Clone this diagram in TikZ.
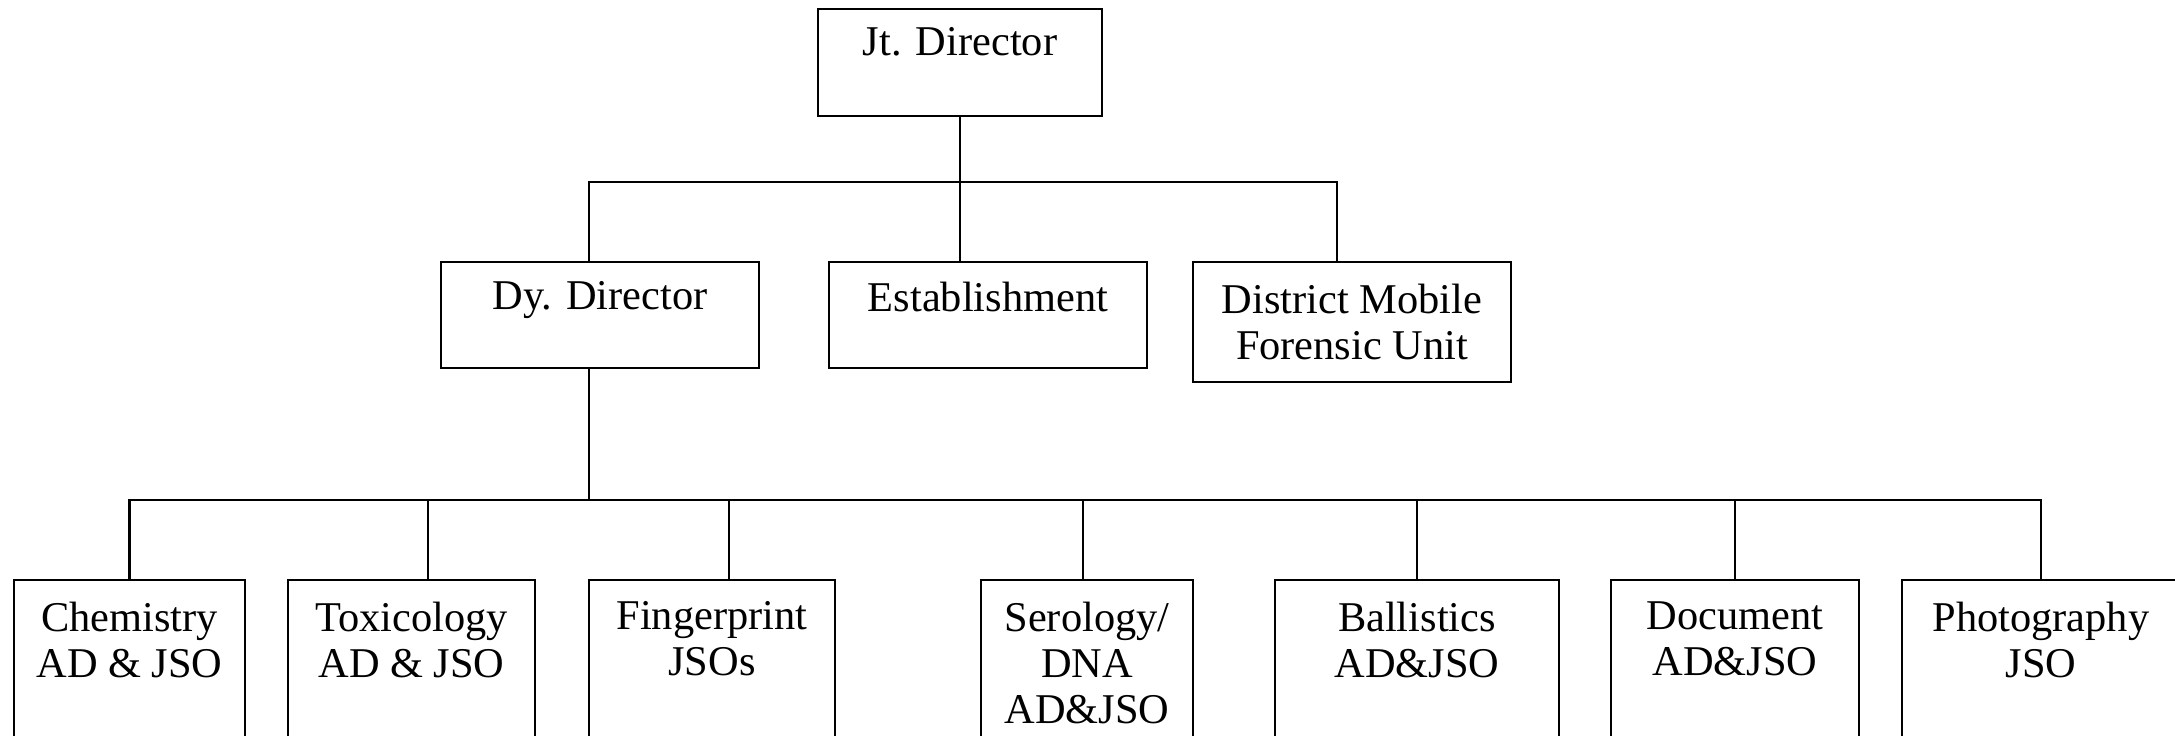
\documentclass[tikz,border=0pt]{standalone}
\usepackage{fontspec}
\setmainfont{Liberation Serif}

\begin{document}
\begin{tikzpicture}[x=0.25pt,y=-0.25pt,
  unit/.style={draw,line width=0.6pt,inner sep=0pt},
  lbl/.style={anchor=north,inner sep=0pt,align=center,font=\fontsize{10.6}{11.5}\selectfont},
  wire/.style={line width=0.6pt}]
  \useasboundingbox (0,0) rectangle (2175,736);

  % head and second level
  \node[unit,minimum width=71pt,minimum height=26.75pt] (jt) at (960,62.5) {};
  \node[unit,minimum width=79.5pt,minimum height=26.5pt] (dy) at (600,315) {};
  \node[unit,minimum width=79.5pt,minimum height=26.5pt] (est) at (988,315) {};
  \node[unit,minimum width=79.5pt,minimum height=30pt] (dmfu) at (1352,322) {};
  \node[lbl,yshift=-4.75pt] (jt-l) at (jt.north) {Jt. Director};
  \node[lbl,yshift=-5pt] (dy-l) at (dy.north) {Dy. Director};
  \node[lbl,yshift=-5pt] (est-l) at (est.north) {Establishment};
  \node[lbl,yshift=-5.5pt] (dmfu-l) at (dmfu.north) {District Mobile\\Forensic Unit};

  % divisions (run off the bottom edge)
  \node[unit,minimum width=57.75pt,minimum height=55pt] (chem) at (129.5,690) {};
  \node[unit,minimum width=61.75pt,minimum height=55pt] (tox) at (411.5,690) {};
  \node[unit,minimum width=61.5pt,minimum height=55pt] (fp) at (712,690) {};
  \node[unit,minimum width=53pt,minimum height=55pt] (ser) at (1087,690) {};
  \node[unit,minimum width=71pt,minimum height=55pt] (bal) at (1417,690) {};
  \node[unit,minimum width=62pt,minimum height=55pt] (doc) at (1735,690) {};
  \node[unit,minimum width=69.5pt,minimum height=55pt] (pho) at (2041,690) {};
  \node[lbl,yshift=-5.5pt] (chem-l) at (chem.north) {Chemistry\\AD \& JSO};
  \node[lbl,yshift=-5.5pt] (tox-l) at (tox.north) {Toxicology\\AD \& JSO};
  \node[lbl,yshift=-5.5pt] (fp-l) at (fp.north) {Fingerprint\\JSOs};
  \node[lbl,yshift=-5.5pt] (ser-l) at (ser.north) {Serology/\\DNA\\AD\&JSO};
  \node[lbl,yshift=-5.5pt] (bal-l) at (bal.north) {Ballistics\\AD\&JSO};
  \node[lbl,yshift=-5.5pt] (doc-l) at (doc.north) {Document\\AD\&JSO};
  \node[lbl,yshift=-5.5pt] (pho-l) at (pho.north) {Photography\\JSO};

  % connectors
  \coordinate (top-bus) at (961,182);
  \coordinate (low-bus) at (589,500);
  \draw[wire] (jt.south) -- (jt.south |- est.north);
  \draw[wire] ([xshift=-2.75pt]dy.north) |- (top-bus) -| ([xshift=-3.75pt]dmfu.north);
  \draw[wire] ([xshift=-2.75pt]dy.south) -- (low-bus);
  \draw[wire] (chem.north) |- (low-bus) -| (pho.north);
  \foreach \b/\dx in {tox/4.1,fp/4.25,ser/-1,bal/0,doc/0}
    \draw[wire] ([xshift=\dx pt]\b.north) -- ++(0,-80);
\end{tikzpicture}
\end{document}
